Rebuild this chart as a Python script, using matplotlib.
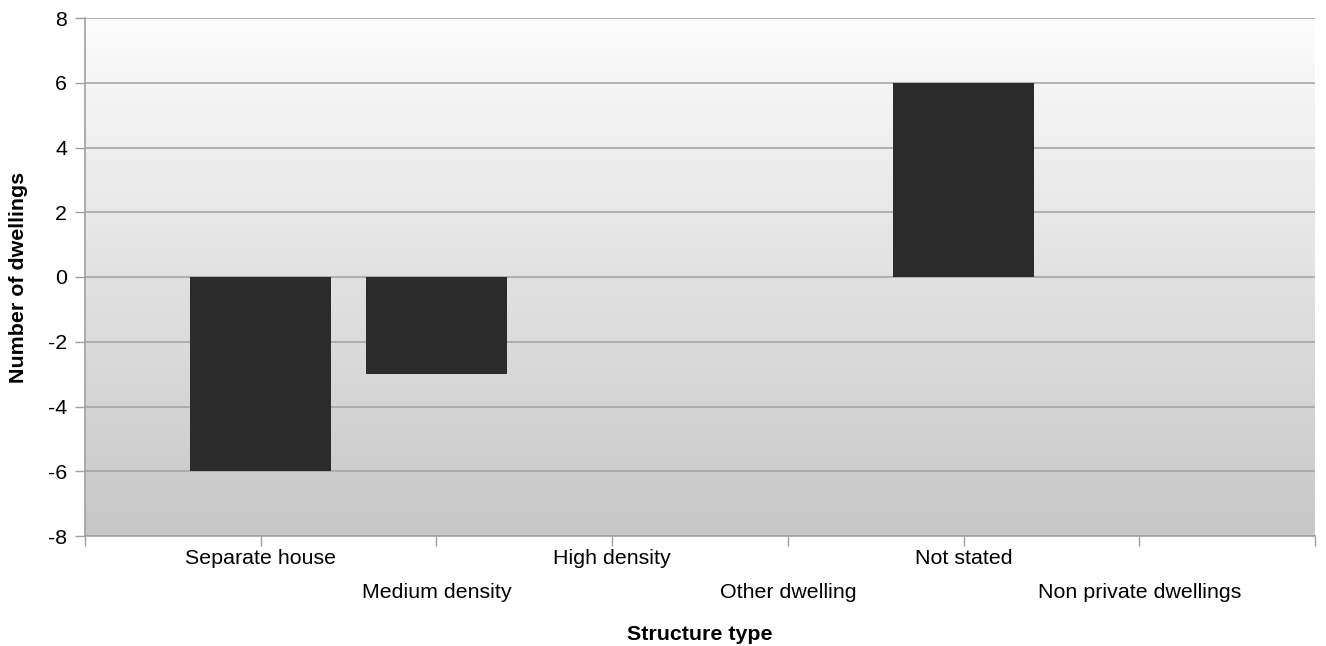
import matplotlib
matplotlib.use("Agg")
import matplotlib.pyplot as plt
import numpy as np

categories = ["Separate house", "Medium density", "High density",
              "Other dwelling", "Not stated", "Non private dwellings"]
values = [-6, -3, 0, 0, 6, 0]
yticks = [-8, -6, -4, -2, 0, 2, 4, 6, 8]

plt.rcParams['font.family'] = ['Liberation Sans', 'DejaVu Sans']
FS = 15.4

fig = plt.figure(figsize=(13.26, 6.46), dpi=100)
ax = fig.add_axes([85/1326, 1-536/646, (1315-85)/1326, (536-18)/646])

# gradient background
grad = np.linspace(0, 1, 256).reshape(-1, 1)
top = np.array([252, 252, 252]) / 255
bot = np.array([199, 199, 199]) / 255
img = top[None, None, :] * (1 - grad[:, :, None]) + bot[None, None, :] * grad[:, :, None]
ax.imshow(img, extent=[0, 1, 0, 1], transform=ax.transAxes, aspect='auto', zorder=0)

x = np.arange(len(categories))
ax.bar(x, values, width=0.8, color='#2b2b2b', zorder=3)

ax.set_xlim(-1, len(categories))
ax.set_ylim(-8, 8)
ax.set_yticks(yticks)
ax.set_yticklabels([str(v) for v in yticks], fontsize=FS)
ax.yaxis.grid(True, color='#a6a6a6', linewidth=1.2, zorder=1)
ax.set_axisbelow(True)

ax.set_xticks(np.arange(-1, len(categories) + 1))
ax.set_xticklabels([])
ax.tick_params(axis='x', length=7, color='#a0a0a0', width=1)
ax.tick_params(axis='y', length=7, color='#a0a0a0', width=1, pad=6)

for s in ['top', 'right']:
    ax.spines[s].set_visible(False)
for s in ['left', 'bottom']:
    ax.spines[s].set_color('#a0a0a0')
    ax.spines[s].set_linewidth(1.2)

for i, c in enumerate(categories):
    off = -13 if i % 2 == 0 else -47
    ax.annotate(c, xy=(i, 0), xycoords=('data', 'axes fraction'),
                xytext=(0, off), textcoords='offset pixels',
                ha='center', va='top', fontsize=FS)

fig.text(700/1326, 1-634/646, "Structure type", ha='center', va='center',
         fontsize=FS, fontweight='bold')
fig.text(19/1326, 1-277/646, "Number of dwellings", ha='center', va='center',
         fontsize=FS, fontweight='bold', rotation=90)

fig.savefig("out.png", dpi=100)
